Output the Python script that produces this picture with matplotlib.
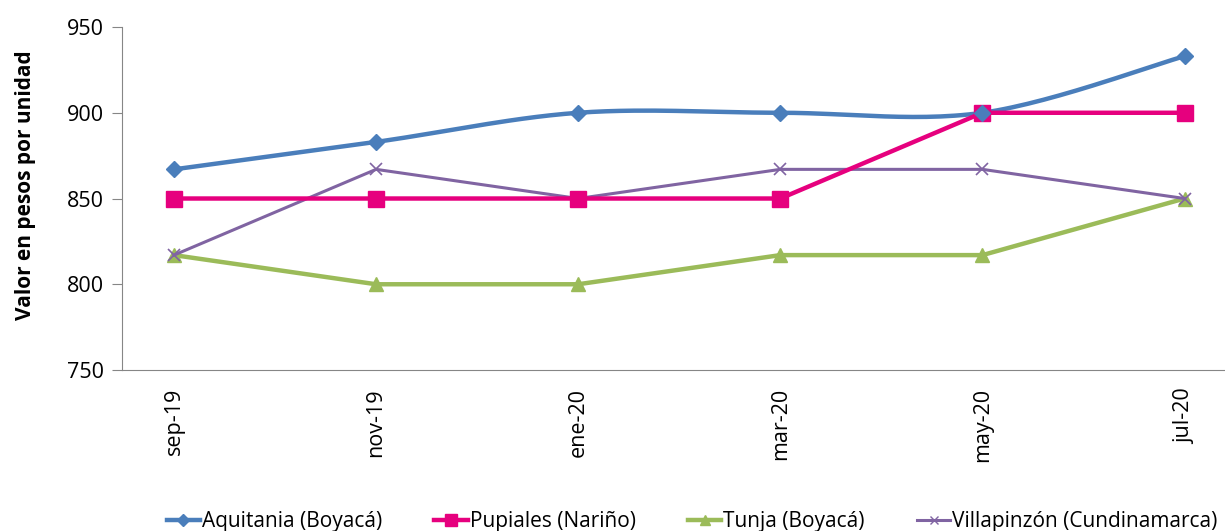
import numpy as np
import matplotlib
matplotlib.use("Agg")
import matplotlib.pyplot as plt

meses = ["sep-19", "nov-19", "ene-20", "mar-20", "may-20", "jul-20"]
aquitania = [867, 883, 900, 900, 900, 933]
pupiales = [850, 850, 850, 850, 900, 900]
tunja = [817, 800, 800, 817, 817, 850]
villapinzon = [817, 867, 850, 867, 867, 850]

plt.rcParams['font.family'] = ['Open Sans', 'DejaVu Sans']


def suavizar(x, y, n=30):
    """Curva suave tipo Excel (Bezier con puntos de control Catmull-Rom)"""
    x = np.asarray(x, float)
    y = np.asarray(y, float)
    xs, ys = [], []
    for i in range(len(x) - 1):
        x0, y0 = (x[i - 1], y[i - 1]) if i > 0 else (x[i], y[i])
        x3, y3 = (x[i + 2], y[i + 2]) if i + 2 < len(x) else (x[i + 1], y[i + 1])
        p0 = np.array([x[i], y[i]])
        p3 = np.array([x[i + 1], y[i + 1]])
        p1 = p0 + (p3 - np.array([x0, y0])) / 6
        p2 = p3 - (np.array([x3, y3]) - p0) / 6
        t = np.linspace(0, 1, n)[:, None]
        pts = (1 - t) ** 3 * p0 + 3 * (1 - t) ** 2 * t * p1 + 3 * (1 - t) * t ** 2 * p2 + t ** 3 * p3
        xs.extend(pts[:, 0])
        ys.extend(pts[:, 1])
    return xs, ys


fig = plt.figure(figsize=(12.25, 5.31), dpi=100)
ax = fig.add_axes([0.0996, 0.3032, 0.9004, 0.6459])
x = np.arange(len(meses))

azul = "#4A7EBB"
rosa = "#E6007E"
verde = "#9BBB59"
morado = "#8064A2"

sx, sy = suavizar(x, aquitania)
ax.plot(sx, sy, color=azul, lw=3.2, zorder=3)
ax.plot(x, aquitania, color=azul, lw=0, marker="D", ms=8.5, zorder=4)
ax.plot(x, pupiales, color=rosa, lw=3.2, marker="s", ms=11, zorder=3)
ax.plot(x, tunja, color=verde, lw=3.2, marker="^", ms=10, zorder=2)
ax.plot(x, villapinzon, color=morado, lw=2.2, marker="x", ms=9, mew=1.2, zorder=2)

ax.set_xlim(-0.257, 5.2)
ax.set_ylim(750, 950)
ax.set_yticks([750, 800, 850, 900, 950])
ax.set_xticks(x)
ax.set_xticklabels(meses, rotation=90, fontsize=15.5)
ax.tick_params(axis="y", labelsize=15.5, length=7, color="#868686", direction="out", pad=6)
ax.tick_params(axis="x", length=0, pad=13)
for s in ["top", "right"]:
    ax.spines[s].set_visible(False)
for s in ["left", "bottom"]:
    ax.spines[s].set_color("#868686")
ax.set_ylabel("Valor en pesos por unidad", fontsize=15, fontweight="bold")
ax.yaxis.set_label_coords(-0.078, 0.54)

# entradas de leyenda: línea con marcador pequeño
handles = [
    plt.Line2D([], [], color=azul, lw=3.2, marker="D", ms=6),
    plt.Line2D([], [], color=rosa, lw=3.2, marker="s", ms=8),
    plt.Line2D([], [], color=verde, lw=3.2, marker="^", ms=7),
    plt.Line2D([], [], color=morado, lw=2.2, marker="x", ms=6),
]
etiquetas = ["Aquitania (Boyacá)", "Pupiales (Nariño)", "Tunja (Boyacá)", "Villapinzón (Cundinamarca)"]
fig.legend(handles, etiquetas, loc="center", bbox_to_anchor=(0.565, 0.018), ncol=4,
           frameon=False, fontsize=15, handlelength=1.6, handletextpad=0.1, columnspacing=2.5)

fig.savefig("out.png", dpi=100)
